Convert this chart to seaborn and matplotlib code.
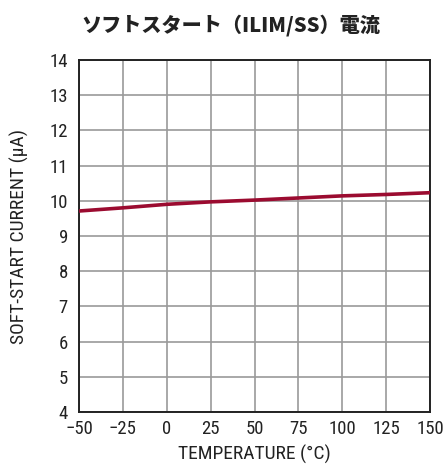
import matplotlib
matplotlib.use("Agg")
import matplotlib.pyplot as plt
import seaborn as sns
import pandas as pd

# Soft-start (ILIM/SS) current versus temperature
temperature_c = [-50, -25, 0, 25, 50, 75, 100, 125, 150]
softstart_ua = [9.71, 9.80, 9.90, 9.97, 10.02, 10.08, 10.14, 10.18, 10.23]

x_ticks = [-50, -25, 0, 25, 50, 75, 100, 125, 150]
y_ticks = [4, 5, 6, 7, 8, 9, 10, 11, 12, 13, 14]

title_text = "ソフトスタート（ILIM/SS）電流"
x_label = "TEMPERATURE (°C)"
y_label = "SOFT-START CURRENT (µA)"

sns.set_style("white")
plt.rcParams["font.family"] = ["Roboto Condensed", "DejaVu Sans"]
plt.rcParams["axes.unicode_minus"] = True

df = pd.DataFrame({"temp": temperature_c, "current": softstart_ua})

fig = plt.figure(figsize=(4.48, 4.68), dpi=100)
ax = fig.add_axes([79 / 448, 1 - 412 / 468, (430 - 79) / 448, (412 - 60) / 468])

sns.lineplot(data=df, x="temp", y="current", ax=ax, color="#9b0b30",
             linewidth=2.6, zorder=3)

ax.set_xlim(-50, 150)
ax.set_ylim(4, 14)
ax.set_xticks(x_ticks)
ax.set_yticks(y_ticks)
ax.set_xticklabels([f"{t}".replace("-", "\u2212") for t in x_ticks])
ax.grid(True, color="#9a9a9a", linewidth=1.2)
ax.set_axisbelow(True)
for s in ax.spines.values():
    s.set_color("#222222")
    s.set_linewidth(1.4)
    s.set_visible(True)

ax.tick_params(axis="both", length=0, labelsize=13.5, colors="#222222")
ax.tick_params(axis="x", pad=6)
ax.tick_params(axis="y", pad=8)

ax.set_xlabel(x_label, fontsize=14, color="#222222", labelpad=5)
ax.set_ylabel(y_label, fontsize=14, color="#222222", labelpad=15)

fig.text(231 / 448, 1 - 25 / 468, title_text, ha="center", va="center",
         fontsize=14.5, fontweight="heavy", color="#222222",
         family=["Noto Sans CJK JP", "DejaVu Sans"])

fig.savefig("out.png", dpi=100)
